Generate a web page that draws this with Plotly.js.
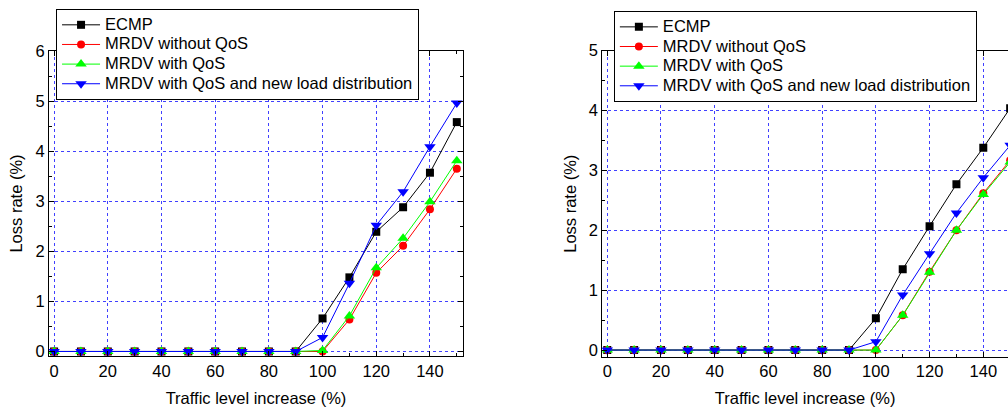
<!DOCTYPE html>
<html>
<head>
<meta charset="utf-8">
<script src="https://cdn.plot.ly/plotly-3.0.1.min.js"></script>
<style>html,body{margin:0;padding:0;background:#fff;}#chart{width:1008px;height:409px;}</style>
</head>
<body>
<div id="chart"></div>
<script>
// Traffic level increase (%)
const traffic = [0, 10, 20, 30, 40, 50, 60, 70, 80, 90, 100, 110, 120, 130, 140, 150];
const seriesNames = ["ECMP", "MRDV without QoS", "MRDV with QoS", "MRDV with QoS and new load distribution"];

// Left chart: loss rate (%)
const leftECMP   = [0, 0, 0, 0, 0, 0, 0, 0, 0, 0, 0.66, 1.48, 2.39, 2.88, 3.57, 4.58];
const leftNoQoS  = [0, 0, 0, 0, 0, 0, 0, 0, 0, 0, 0.00, 0.64, 1.57, 2.11, 2.84, 3.65];
const leftQoS    = [0, 0, 0, 0, 0, 0, 0, 0, 0, 0, 0.02, 0.71, 1.67, 2.26, 2.99, 3.81];
const leftNewLD  = [0, 0, 0, 0, 0, 0, 0, 0, 0, 0, 0.28, 1.36, 2.52, 3.19, 4.09, 4.96];

// Right chart: loss rate (%)
const rightECMP  = [0, 0, 0, 0, 0, 0, 0, 0, 0, 0, 0.53, 1.35, 2.07, 2.77, 3.38, 4.04];
const rightNoQoS = [0, 0, 0, 0, 0, 0, 0, 0, 0, 0, 0.00, 0.58, 1.31, 2.00, 2.62, 3.17];
const rightQoS   = [0, 0, 0, 0, 0, 0, 0, 0, 0, 0, 0.00, 0.58, 1.30, 2.00, 2.60, 3.14];
const rightNewLD = [0, 0, 0, 0, 0, 0, 0, 0, 0, 0, 0.14, 0.92, 1.61, 2.29, 2.88, 3.42];

const colors = ["#000000", "#ff0000", "#00ff00", "#0000ff"];
const symbols = ["square", "circle", "triangle-up", "triangle-down"];
const sizes = [8, 8, 10, 10];

function mk(y, i, xa, ya, leg) {
  return {
    x: traffic, y: y,
    name: '<span style="font-size:16.5px">' + seriesNames[i] + '</span>',
    type: "scatter", mode: "lines+markers",
    xaxis: xa, yaxis: ya, legend: leg,
    line: {color: colors[i], width: 1},
    marker: {color: colors[i], symbol: symbols[i], size: sizes[i]}
  };
}

const data = [
  mk(leftECMP, 0, "x", "y", "legend"),
  mk(leftNoQoS, 1, "x", "y", "legend"),
  mk(leftQoS, 2, "x", "y", "legend"),
  mk(leftNewLD, 3, "x", "y", "legend"),
  mk(rightECMP, 0, "x2", "y2", "legend2"),
  mk(rightNoQoS, 1, "x2", "y2", "legend2"),
  mk(rightQoS, 2, "x2", "y2", "legend2"),
  mk(rightNewLD, 3, "x2", "y2", "legend2")
];

const FAM = "Liberation Sans, Arial, sans-serif";
const font = {family: FAM, size: 16.5, color: "#000"};
const legFont = {family: FAM, size: 12.8, color: "#000"};
const gridStyle = {showgrid: true, gridcolor: "rgba(0,0,255,0.75)", griddash: "dot", gridwidth: 1, zeroline: false};

function xax(domain, range, mirror) {
  return Object.assign({
    domain: domain, range: range, tickmode: "linear", tick0: 0, dtick: 20,
    ticks: "inside", ticklen: 5, tickcolor: "#000", showline: true, linecolor: "#000", linewidth: 1,
    mirror: mirror, tickfont: font,
    minor: {dtick: 10, ticks: "inside", ticklen: 3, tickcolor: "#000", showgrid: false},
    title: {text: "Traffic level increase (%)", font: font, standoff: 13},
    automargin: false
  }, gridStyle);
}
function yax(domain, range, anchor, mirror) {
  return Object.assign({
    domain: domain, range: range, anchor: anchor, tickmode: "linear", tick0: 0, dtick: 1,
    ticks: "inside", ticklen: 5, tickcolor: "#000", showline: true, linecolor: "#000", linewidth: 1,
    mirror: mirror, tickfont: font,
    minor: {dtick: 0.5, ticks: "inside", ticklen: 3, tickcolor: "#000", showgrid: false},
    title: {text: "Loss rate (%)", font: font, standoff: 8},
    automargin: false
  }, gridStyle);
}

const layout = {
  width: 1008, height: 409,
  margin: {l: 0, r: 0, t: 0, b: 0},
  paper_bgcolor: "#fff", plot_bgcolor: "#fff",
  font: font,
  showlegend: true,
  xaxis: Object.assign(xax([0.0486, 0.4593], [-1.9, 152.3], "ticks"), {anchor: "y"}),
  yaxis: yax([0.1296, 0.8753], [-0.09, 6], "x", "ticks"),
  xaxis2: Object.assign(xax([0.5975, 1.0], [-1.86, 149.2], "ticks"), {anchor: "y2"}),
  yaxis2: yax([0.128, 0.876], [-0.11, 5], "x2", false),
  legend: {x: 0.0556, y: 0.978, xanchor: "left", yanchor: "top", bgcolor: "#fff", itemwidth: 38,
           bordercolor: "#000", borderwidth: 1, font: legFont, tracegroupgap: 0},
  legend2: {x: 0.609, y: 0.973, xanchor: "left", yanchor: "top", bgcolor: "#fff", itemwidth: 38,
           bordercolor: "#000", borderwidth: 1, font: legFont, tracegroupgap: 0}
};

Plotly.newPlot("chart", data, layout, {staticPlot: true, displayModeBar: false});
</script>
</body>
</html>
